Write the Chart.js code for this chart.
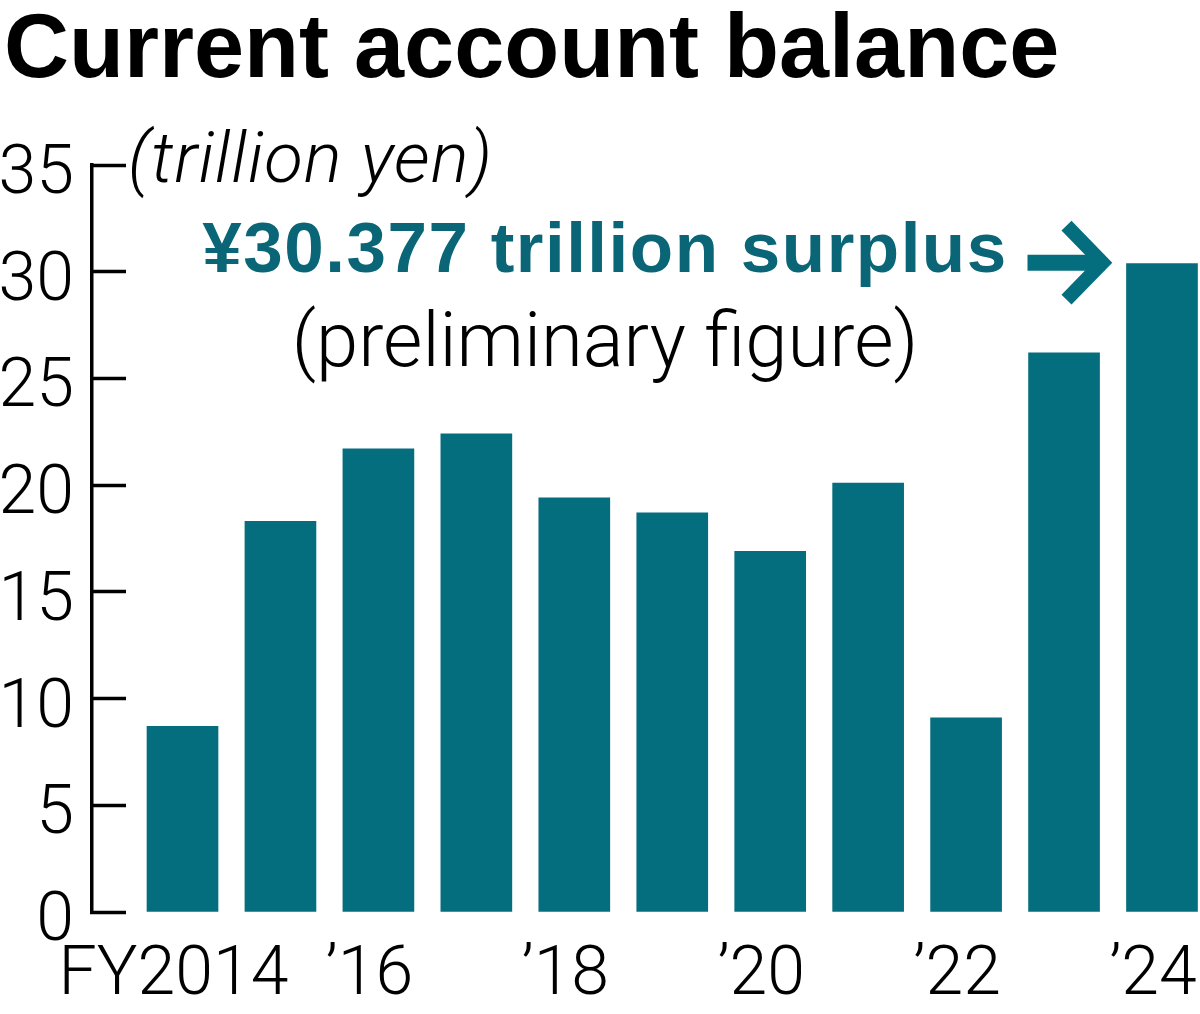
<!DOCTYPE html>
<html>
<head>
<meta charset="utf-8">
<title>Current account balance</title>
<script src="https://cdn.jsdelivr.net/npm/chart.js@4"></script>
<style>
  html, body { margin: 0; padding: 0; background: #fff; }
  #wrap { position: relative; width: 1200px; height: 1014px; }
</style>
</head>
<body>
<div id="wrap"><canvas id="chart"></canvas></div>
<script>
// Current account balance by fiscal year (trillion yen)
const years = [2014, 2015, 2016, 2017, 2018, 2019, 2020, 2021, 2022, 2023, 2024];
const balance = [8.7, 18.3, 21.7, 22.4, 19.4, 18.7, 16.9, 20.1, 9.1, 26.2, 30.377];

const tickYears = [2014, 2016, 2018, 2020, 2022, 2024];
const tickLabels = ['FY2014', '\u201916', '\u201918', '\u201920', '\u201922', '\u201924'];

const titleText = 'Current account balance';
const unitText = '(trillion yen)';
const calloutText = '\u00a530.377 trillion surplus';
const calloutSubText = '(preliminary figure)';

const TEAL = '#046e7f';
const TEAL_TEXT = '#0a6677';
const LIGHT = 'Roboto, "Liberation Sans", sans-serif';
const BOLD = '"Liberation Sans", Arial, sans-serif';

// title, unit label, callout text and arrow pointing at the last bar
const annotations = {
    id: 'annotations',
    afterDraw(chart) {
        const ctx = chart.ctx;
        const meta = chart.getDatasetMeta(0);
        const last = meta.data[meta.data.length - 1];

        ctx.save();
        ctx.textBaseline = 'alphabetic';
        ctx.fillStyle = '#000';

        ctx.font = `bold 90px ${BOLD}`;
        ctx.textAlign = 'left';
        ctx.fillText(titleText, 4, 77);

        ctx.font = `italic 300 71px ${LIGHT}`;
        ctx.letterSpacing = '1px';
        ctx.fillText(unitText, 128, 182);

        ctx.textAlign = 'center';
        ctx.fillStyle = TEAL_TEXT;
        ctx.font = `bold 71px ${BOLD}`;
        ctx.letterSpacing = '1.5px';
        ctx.fillText(calloutText, 605, 272);

        ctx.letterSpacing = '0px';
        ctx.fillStyle = '#000';
        ctx.font = `300 76px ${LIGHT}`;
        ctx.fillText(calloutSubText, 605, 366);

        // arrow
        const tipX = last.x - last.width / 2 - 14;
        const y = last.y - 1;
        ctx.strokeStyle = TEAL;
        ctx.lineWidth = 16;
        ctx.lineCap = 'butt';
        ctx.beginPath();
        ctx.moveTo(tipX - 85, y);
        ctx.lineTo(tipX - 8, y);
        ctx.stroke();

        ctx.lineWidth = 14;
        ctx.lineJoin = 'miter';
        ctx.beginPath();
        ctx.moveTo(tipX - 46, y - 37);
        ctx.lineTo(tipX - 10, y);
        ctx.lineTo(tipX - 46, y + 37);
        ctx.stroke();
        ctx.restore();
    }
};

new Chart(document.getElementById('chart'), {
    type: 'bar',
    data: {
        datasets: [{
            data: years.map((yr, i) => ({ x: yr, y: balance[i] })),
            backgroundColor: TEAL,
            borderWidth: 0,
            barThickness: 71
        }]
    },
    options: {
        responsive: true,
        maintainAspectRatio: false,
        animation: false,
        layout: { padding: { top: 165, right: 0, bottom: 0, left: 0 } },
        plugins: {
            legend: { display: false },
            tooltip: { enabled: false }
        },
        scales: {
            x: {
                type: 'linear',
                offset: false,
                min: 2013.076,
                max: 2024.388,
                grid: { display: false, drawTicks: false, offset: false },
                border: { display: false },
                afterBuildTicks: (axis) => {
                    axis.ticks = tickYears.map(v => ({ value: v }));
                },
                afterFit: (axis) => {
                    axis.height = 102;
                    axis.paddingLeft = 0;
                    axis.paddingRight = 0;
                },
                ticks: {
                    autoSkip: false,
                    maxRotation: 0,
                    padding: 24,
                    labelOffset: -9,
                    color: '#000',
                    font: { family: LIGHT, size: 68, weight: 300 },
                    callback: (v, i) => tickLabels[i]
                }
            },
            y: {
                min: 0,
                max: 35,
                grid: {
                    drawOnChartArea: false,
                    drawTicks: true,
                    tickLength: -34,
                    tickWidth: 3.5,
                    tickColor: '#000'
                },
                border: { display: true, color: '#000', width: 3.5 },
                afterFit: (axis) => {
                    axis.width = 92;
                    axis.paddingTop = 0;
                    axis.paddingBottom = 0;
                },
                ticks: {
                    stepSize: 5,
                    padding: 52,
                    labelOffset: 11,
                    color: '#000',
                    font: { family: LIGHT, size: 68, weight: 300 }
                }
            }
        }
    },
    plugins: [annotations]
});
</script>
</body>
</html>
